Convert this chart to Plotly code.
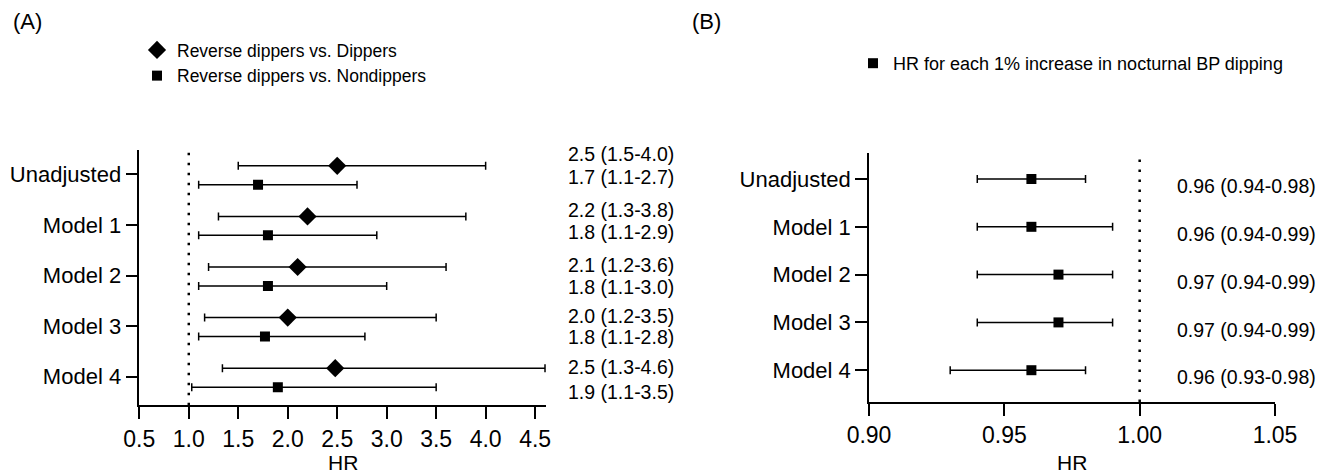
import plotly.graph_objects as go

# ---------------- data ----------------
models = ["Unadjusted", "Model 1", "Model 2", "Model 3", "Model 4"]

# Panel A: Reverse dippers vs. Dippers
dip_hr = [2.5, 2.2, 2.1, 2.0, 2.48]
dip_lo = [1.5, 1.3, 1.2, 1.16, 1.34]
dip_hi = [4.0, 3.8, 3.6, 3.5, 4.6]
dip_text = ["2.5 (1.5-4.0)", "2.2 (1.3-3.8)", "2.1 (1.2-3.6)", "2.0 (1.2-3.5)", "2.5 (1.3-4.6)"]

# Panel A: Reverse dippers vs. Nondippers
nondip_hr = [1.7, 1.8, 1.8, 1.77, 1.9]
nondip_lo = [1.1, 1.1, 1.1, 1.1, 1.03]
nondip_hi = [2.7, 2.9, 3.0, 2.78, 3.5]
nondip_text = ["1.7 (1.1-2.7)", "1.8 (1.1-2.9)", "1.8 (1.1-3.0)", "1.8 (1.1-2.8)", "1.9 (1.1-3.5)"]

# Panel B: HR for each 1% increase in nocturnal BP dipping
b_hr = [0.96, 0.96, 0.97, 0.97, 0.96]
b_lo = [0.94, 0.94, 0.94, 0.94, 0.93]
b_hi = [0.98, 0.99, 0.99, 0.99, 0.98]
b_text = ["0.96 (0.94-0.98)", "0.96 (0.94-0.99)", "0.97 (0.94-0.99)",
          "0.97 (0.94-0.99)", "0.96 (0.93-0.98)"]

xticks_a = [0.5, 1.0, 1.5, 2.0, 2.5, 3.0, 3.5, 4.0, 4.5]
xticks_b = [0.90, 0.95, 1.00, 1.05]

# ---------------- layout helpers ----------------
FONT = "Liberation Sans, Arial, sans-serif"
W, H = 1343, 474
PAGE_OFF = 8  # the page body margin shifts the figure by this many pixels
rows = list(range(len(models)))
off_dip, off_non = -0.168, 0.207
lab_off_dip = [-0.40, -0.30, -0.20, -0.20, -0.20]
lab_off_non = [0.06, 0.14, 0.22, 0.22, 0.30]
lab_off_b = 0.15


def px_x(p):
    return (p - PAGE_OFF) / W


def px_y(p):
    return (H - (p - PAGE_OFF)) / H


fig = go.Figure()


def err(hr, lo, hi):
    return dict(type="data", symmetric=False,
                array=[h - v for h, v in zip(hi, hr)],
                arrayminus=[v - l for v, l in zip(hr, lo)],
                color="black", thickness=1.5, width=4)


fig.add_trace(go.Scatter(
    x=dip_hr, y=[r + off_dip for r in rows], mode="markers",
    name="Reverse dippers vs. Dippers",
    marker=dict(symbol="diamond", size=14, color="black"),
    error_x=err(dip_hr, dip_lo, dip_hi), xaxis="x", yaxis="y", legend="legend"))
fig.add_trace(go.Scatter(
    x=nondip_hr, y=[r + off_non for r in rows], mode="markers",
    name="Reverse dippers vs. Nondippers",
    marker=dict(symbol="square", size=10, color="black"),
    error_x=err(nondip_hr, nondip_lo, nondip_hi), xaxis="x", yaxis="y", legend="legend"))
fig.add_trace(go.Scatter(
    x=b_hr, y=rows, mode="markers",
    name="HR for each 1% increase in nocturnal BP dipping",
    marker=dict(symbol="square", size=10, color="black"),
    error_x=err(b_hr, b_lo, b_hi), xaxis="x2", yaxis="y2", legend="legend2"))

axis_common = dict(showline=True, linecolor="black", linewidth=1.5,
                   ticks="outside", ticklen=12, tickwidth=1.5, tickcolor="black",
                   showgrid=False, zeroline=False, automargin=False)
xfont = dict(family=FONT, size=23, color="black")
yfont = dict(family=FONT, size=22, color="black")

fig.update_layout(
    width=W, height=H,
    margin=dict(l=0, r=0, t=0, b=0, autoexpand=False),
    paper_bgcolor="white", plot_bgcolor="white",
    font=dict(family=FONT, color="black"),
    xaxis=dict(domain=[px_x(139.3), px_x(546)], range=[0.5, 4.61],
               tickvals=xticks_a, ticktext=[f"{v:.1f}" for v in xticks_a],
               tickfont=xfont, anchor="y", **axis_common),
    yaxis=dict(domain=[px_y(405.3), px_y(150)], range=[4.565, -0.48],
               tickvals=rows, ticktext=models, tickfont=yfont, anchor="x", **axis_common),
    xaxis2=dict(domain=[px_x(869), px_x(1275)], range=[0.90, 1.05],
                tickvals=xticks_b, ticktext=[f"{v:.2f}" for v in xticks_b],
                tickfont=xfont, anchor="y2", **axis_common),
    yaxis2=dict(domain=[px_y(402), px_y(153)], range=[4.665, -0.544],
                tickvals=rows, ticktext=models, tickfont=yfont, anchor="x2", **axis_common),
    legend=dict(x=px_x(137), y=px_y(32), xanchor="left", yanchor="top",
                font=dict(family=FONT, size=17.5, color="black"),
                bgcolor="rgba(0,0,0,0)", tracegroupgap=0),
    legend2=dict(x=px_x(853), y=px_y(45), xanchor="left", yanchor="top",
                 font=dict(family=FONT, size=18, color="black"),
                 bgcolor="rgba(0,0,0,0)"),
    showlegend=True,
)

# axis titles
for cx, txt in ((343, "HR"), (1072, "HR")):
    fig.add_annotation(xref="paper", yref="paper", x=px_x(cx), y=px_y(462), text=txt,
                       showarrow=False, xanchor="center", yanchor="middle",
                       font=dict(family=FONT, size=21, color="black"))

# reference lines at HR = 1
for xa, ya in (("x", "y"), ("x2", "y2")):
    fig.add_shape(type="line", xref=xa, yref=f"{ya} domain", x0=1.0, x1=1.0, y0=0, y1=1,
                  line=dict(color="black", width=2.5, dash="2.5px,7.5px"))

# value labels
for r, t, o in zip(rows, dip_text, lab_off_dip):
    fig.add_annotation(xref="paper", yref="y", x=px_x(566), y=r + o, text=t,
                       showarrow=False, xanchor="left", yanchor="middle",
                       font=dict(family=FONT, size=19.5, color="black"))
for r, t, o in zip(rows, nondip_text, lab_off_non):
    fig.add_annotation(xref="paper", yref="y", x=px_x(566), y=r + o, text=t,
                       showarrow=False, xanchor="left", yanchor="middle",
                       font=dict(family=FONT, size=19.5, color="black"))
for r, t in zip(rows, b_text):
    fig.add_annotation(xref="paper", yref="y2", x=px_x(1175), y=r + lab_off_b, text=t,
                       showarrow=False, xanchor="left", yanchor="middle",
                       font=dict(family=FONT, size=19.5, color="black"))

# panel letters
for px, txt in ((11, "(A)"), (690, "(B)")):
    fig.add_annotation(xref="paper", yref="paper", x=px_x(px), y=px_y(21),
                       text=txt, showarrow=False, xanchor="left", yanchor="middle",
                       font=dict(family=FONT, size=22, color="black"))

fig.write_html("out.html")
